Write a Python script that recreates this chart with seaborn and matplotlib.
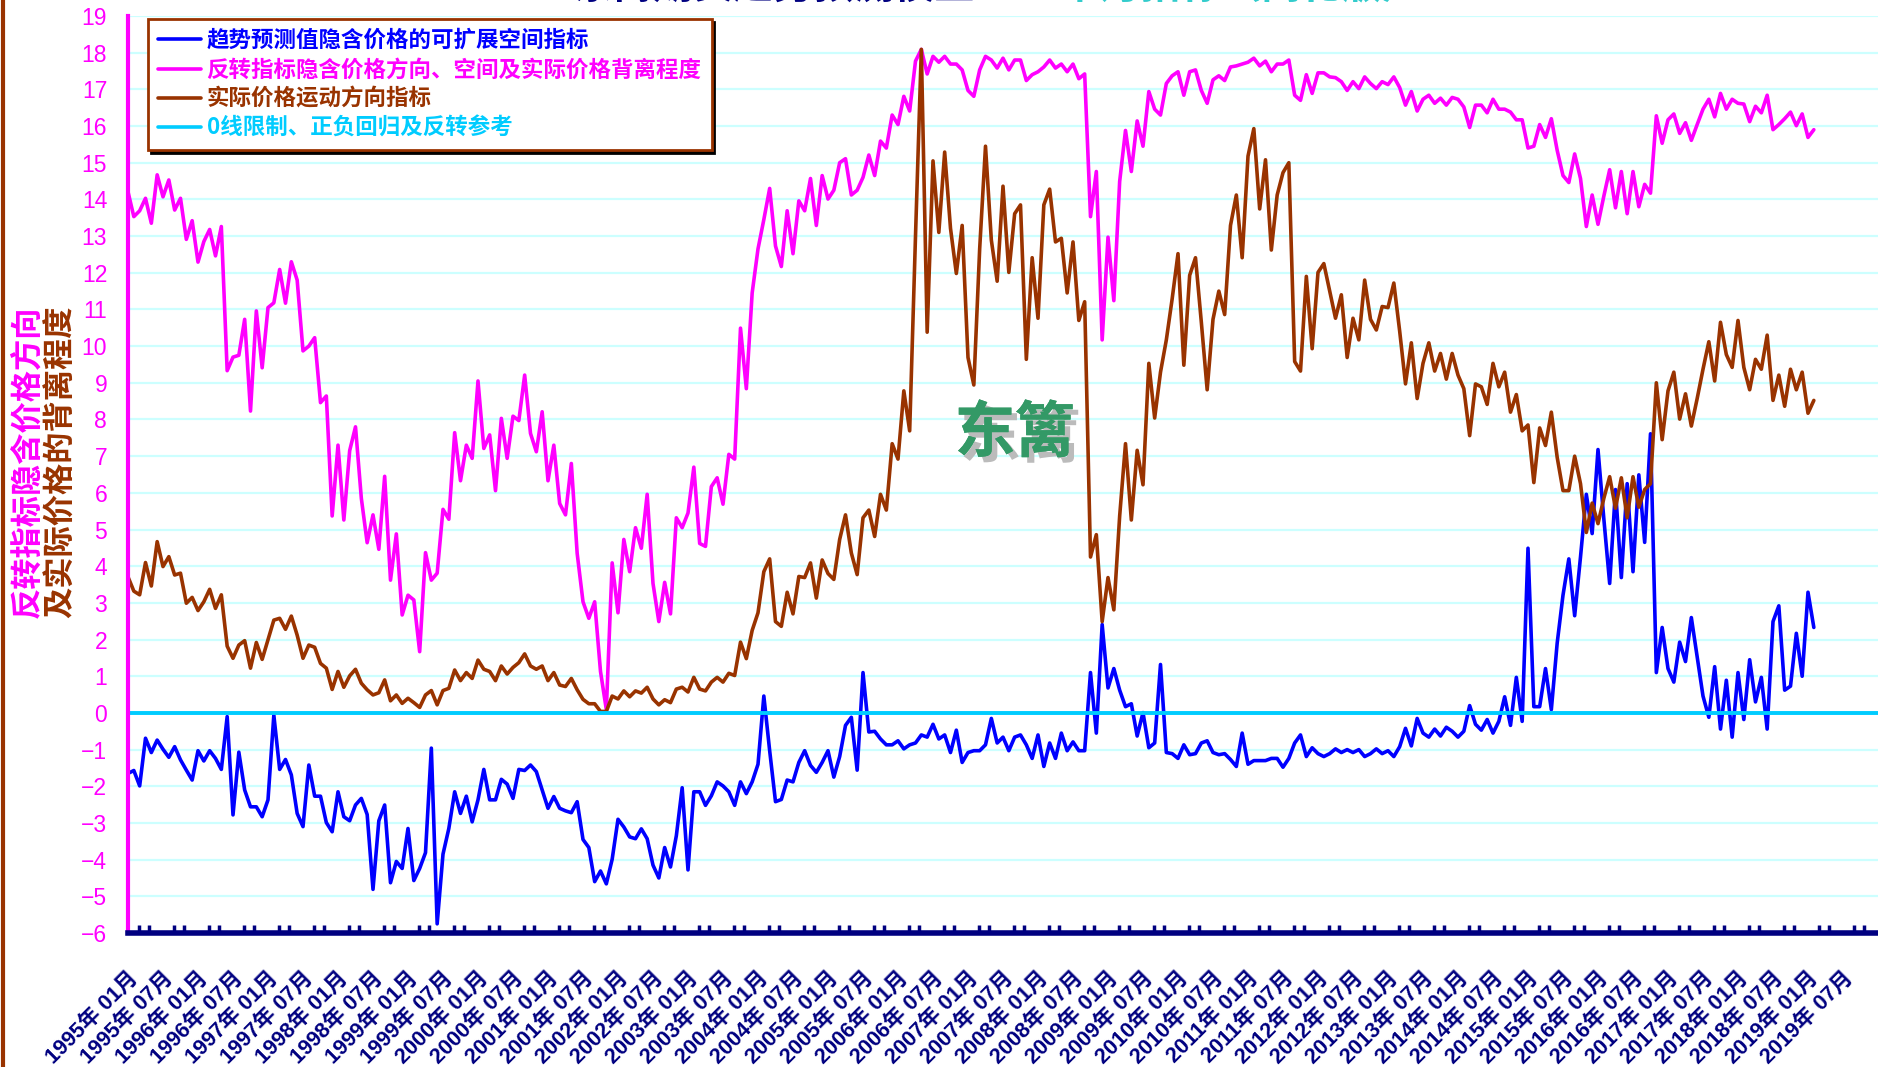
import matplotlib
matplotlib.use("Agg")
import matplotlib.pyplot as plt
import matplotlib.patheffects as pe
from matplotlib.lines import Line2D
from matplotlib.ticker import FixedLocator
import numpy as np
import pandas as pd
import seaborn as sns

# monthly values from 1995-01 to 2019-02
trend = [
    -1.65, -1.57, -1.99, -0.69, -1.08, -0.74, -0.99, -1.21, -0.92, -1.28,
    -1.56, -1.83, -1.03, -1.31, -1.03, -1.24, -1.54, -0.10, -2.78, -1.07,
    -2.10, -2.56, -2.56, -2.83, -2.37, -0.06, -1.54, -1.27, -1.69, -2.74,
    -3.10, -1.42, -2.27, -2.27, -2.99, -3.24, -2.15, -2.83, -2.94, -2.51,
    -2.33, -2.77, -4.81, -2.94, -2.51, -4.63, -4.05, -4.24, -3.15, -4.57,
    -4.24, -3.81, -0.96, -5.75, -3.85, -3.15, -2.15, -2.74, -2.27, -2.97,
    -2.37, -1.54, -2.37, -2.37, -1.81, -1.94, -2.33, -1.54, -1.57, -1.42,
    -1.60, -2.10, -2.60, -2.28, -2.60, -2.67, -2.72, -2.42, -3.45, -3.67,
    -4.60, -4.31, -4.66, -3.99, -2.90, -3.11, -3.38, -3.43, -3.16, -3.43,
    -4.15, -4.50, -3.67, -4.20, -3.35, -2.04, -4.28, -2.15, -2.15, -2.52,
    -2.26, -1.88, -1.99, -2.15, -2.52, -1.88, -2.20, -1.88, -1.40, 0.46,
    -1.03, -2.42, -2.36, -1.83, -1.88, -1.35, -1.03, -1.43, -1.62, -1.35,
    -1.03, -1.75, -1.19, -0.34, -0.12, -1.56, 1.10, -0.52, -0.50, -0.71,
    -0.87, -0.87, -0.76, -0.98, -0.87, -0.82, -0.60, -0.66, -0.31, -0.71,
    -0.60, -1.08, -0.47, -1.35, -1.08, -1.03, -1.03, -0.87, -0.15, -0.82,
    -0.66, -1.03, -0.66, -0.60, -0.87, -1.24, -0.60, -1.46, -0.82, -1.24,
    -0.55, -1.03, -0.79, -1.03, -1.03, 1.10, -0.55, 2.41, 0.68, 1.21,
    0.62, 0.17, 0.25, -0.63, 0.01, -0.95, -0.82, 1.32, -1.08, -1.11,
    -1.24, -0.87, -1.14, -1.11, -0.82, -0.76, -1.08, -1.14, -1.11, -1.27,
    -1.46, -0.55, -1.40, -1.30, -1.30, -1.30, -1.24, -1.24, -1.48, -1.24,
    -0.82, -0.60, -1.19, -0.95, -1.11, -1.19, -1.11, -0.98, -1.08, -1.00,
    -1.08, -1.00, -1.19, -1.11, -0.98, -1.11, -1.03, -1.19, -0.92, -0.42,
    -0.90, -0.15, -0.55, -0.66, -0.44, -0.63, -0.39, -0.50, -0.66, -0.50,
    0.20, -0.31, -0.47, -0.18, -0.55, -0.23, 0.44, -0.34, 0.97, -0.23,
    4.49, 0.17, 0.17, 1.21, 0.09, 1.90, 3.21, 4.20, 2.65, 4.25,
    5.96, 4.89, 7.18, 5.29, 3.53, 6.09, 3.69, 6.25, 3.85, 6.49,
    4.65, 7.61, 1.10, 2.33, 1.21, 0.84, 1.93, 1.40, 2.60, 1.53,
    0.46, -0.12, 1.26, -0.44, 0.89, -0.66, 1.10, -0.18, 1.45, 0.30,
    0.97, -0.44, 2.49, 2.92, 0.62, 0.73, 2.17, 1.00, 3.29, 2.33,
]

reversal = [
    14.21, 13.53, 13.69, 14.03, 13.35, 14.67, 14.07, 14.53, 13.71, 14.03,
    12.91, 13.42, 12.29, 12.85, 13.18, 12.46, 13.26, 9.33, 9.70, 9.75,
    10.73, 8.23, 10.96, 9.41, 11.05, 11.18, 12.09, 11.17, 12.30, 11.80,
    9.87, 10.00, 10.23, 8.46, 8.64, 5.37, 7.30, 5.26, 7.15, 7.80,
    5.85, 4.64, 5.40, 4.46, 6.45, 3.62, 4.88, 2.67, 3.21, 3.08,
    1.67, 4.37, 3.62, 3.81, 5.55, 5.28, 7.64, 6.33, 7.30, 6.94,
    9.05, 7.21, 7.58, 6.06, 8.03, 6.94, 8.09, 7.97, 9.21, 7.62,
    7.12, 8.21, 6.33, 7.30, 5.71, 5.40, 6.80, 4.35, 3.03, 2.58,
    3.03, 1.13, 0.09, 4.09, 2.73, 4.73, 3.85, 5.05, 4.49, 5.96,
    3.53, 2.49, 3.56, 2.70, 5.32, 5.05, 5.45, 6.70, 4.62, 4.54,
    6.17, 6.41, 5.69, 7.05, 6.92, 10.49, 8.84, 11.45, 12.65, 13.45,
    14.30, 12.73, 12.17, 13.69, 12.52, 13.96, 13.69, 14.57, 13.29, 14.65,
    14.01, 14.25, 15.00, 15.11, 14.12, 14.25, 14.60, 15.21, 14.65, 15.59,
    15.40, 16.30, 16.04, 16.81, 16.41, 17.77, 18.09, 17.42, 17.90, 17.74,
    17.90, 17.69, 17.69, 17.53, 16.97, 16.81, 17.53, 17.90, 17.80, 17.58,
    17.85, 17.53, 17.80, 17.80, 17.24, 17.40, 17.48, 17.61, 17.80, 17.58,
    17.69, 17.48, 17.69, 17.29, 17.42, 13.53, 14.76, 10.17, 12.97, 11.24,
    14.49, 15.88, 14.76, 16.14, 15.45, 16.94, 16.46, 16.30, 17.16, 17.37,
    17.48, 16.84, 17.48, 17.53, 16.97, 16.62, 17.26, 17.37, 17.24, 17.61,
    17.64, 17.69, 17.74, 17.85, 17.64, 17.77, 17.48, 17.69, 17.69, 17.80,
    16.84, 16.70, 17.40, 16.89, 17.45, 17.45, 17.34, 17.32, 17.21, 16.97,
    17.21, 17.02, 17.34, 17.16, 17.02, 17.21, 17.13, 17.34, 17.05, 16.57,
    16.94, 16.41, 16.73, 16.84, 16.62, 16.76, 16.57, 16.78, 16.73, 16.52,
    15.96, 16.57, 16.57, 16.36, 16.73, 16.46, 16.46, 16.38, 16.17, 16.17,
    15.40, 15.45, 16.04, 15.69, 16.20, 15.34, 14.65, 14.46, 15.24, 14.57,
    13.26, 14.12, 13.32, 14.09, 14.81, 13.77, 14.76, 13.61, 14.76, 13.80,
    14.41, 14.17, 16.28, 15.53, 16.17, 16.33, 15.80, 16.09, 15.61, 16.04,
    16.46, 16.73, 16.25, 16.89, 16.46, 16.73, 16.62, 16.60, 16.12, 16.54,
    16.36, 16.84, 15.90, 16.04, 16.20, 16.38, 16.01, 16.33, 15.69, 15.90,
]

price = [
    3.71, 3.32, 3.22, 4.10, 3.46, 4.67, 3.99, 4.26, 3.76, 3.81,
    2.99, 3.15, 2.79, 3.03, 3.37, 2.85, 3.22, 1.82, 1.49, 1.85,
    1.97, 1.22, 1.92, 1.46, 1.99, 2.53, 2.58, 2.28, 2.64, 2.12,
    1.49, 1.85, 1.79, 1.35, 1.22, 0.64, 1.13, 0.70, 1.01, 1.19,
    0.81, 0.63, 0.49, 0.55, 0.90, 0.33, 0.49, 0.26, 0.40, 0.28,
    0.15, 0.49, 0.61, 0.22, 0.61, 0.67, 1.17, 0.88, 1.10, 0.94,
    1.44, 1.19, 1.13, 0.88, 1.28, 1.06, 1.24, 1.37, 1.61, 1.28,
    1.19, 1.28, 0.88, 1.10, 0.76, 0.72, 0.94, 0.63, 0.37, 0.25,
    0.25, 0.04, 0.04, 0.46, 0.38, 0.60, 0.44, 0.60, 0.54, 0.70,
    0.38, 0.22, 0.36, 0.28, 0.65, 0.70, 0.57, 0.97, 0.65, 0.60,
    0.84, 0.97, 0.84, 1.08, 1.02, 1.93, 1.48, 2.25, 2.73, 3.85,
    4.20, 2.49, 2.36, 3.29, 2.70, 3.72, 3.69, 4.09, 3.13, 4.17,
    3.80, 3.64, 4.73, 5.40, 4.36, 3.77, 5.32, 5.53, 4.81, 5.96,
    5.53, 7.34, 6.92, 8.78, 7.69, 13.00, 18.09, 10.38, 15.05, 13.10,
    15.29, 13.21, 11.98, 13.29, 9.69, 8.94, 12.65, 15.45, 12.89, 11.77,
    14.36, 12.01, 13.61, 13.85, 9.64, 12.41, 10.76, 13.85, 14.28, 12.84,
    12.94, 11.45, 12.84, 10.70, 11.21, 4.25, 4.86, 2.49, 3.69, 2.81,
    5.37, 7.34, 5.26, 7.16, 6.22, 9.53, 8.04, 9.29, 10.17, 11.29,
    12.52, 9.48, 11.93, 12.41, 10.65, 8.81, 10.73, 11.50, 10.86, 13.29,
    14.12, 12.41, 15.18, 15.93, 13.74, 15.08, 12.62, 14.12, 14.73, 15.00,
    9.58, 9.32, 11.90, 9.93, 12.01, 12.25, 11.50, 10.76, 11.40, 9.69,
    10.76, 10.17, 11.80, 10.73, 10.44, 11.08, 11.05, 11.72, 10.41, 8.97,
    10.09, 8.57, 9.53, 10.09, 9.32, 9.80, 9.10, 9.80, 9.21, 8.84,
    7.56, 8.97, 8.89, 8.41, 9.53, 8.89, 9.29, 8.20, 8.68, 7.69,
    7.85, 6.28, 7.77, 7.29, 8.20, 6.97, 6.06, 6.06, 7.00, 6.25,
    4.92, 5.72, 5.16, 5.85, 6.44, 5.58, 6.41, 5.32, 6.44, 5.61,
    6.09, 6.25, 9.00, 7.45, 8.78, 9.29, 8.01, 8.70, 7.82, 8.57,
    9.37, 10.12, 9.05, 10.65, 9.77, 9.42, 10.70, 9.42, 8.81, 9.64,
    9.37, 10.30, 8.52, 9.21, 8.36, 9.37, 8.81, 9.29, 8.17, 8.52,
]

tick_labels = [f"{1995 + k // 2}年 {'01' if k % 2 == 0 else '07'}月" for k in range(50)]

legend_labels = [
    "趋势预测值隐含价格的可扩展空间指标",
    "反转指标隐含价格方向、空间及实际价格背离程度",
    "实际价格运动方向指标",
    "0线限制、正负回归及反转参考",
]

BLUE = "#0000FF"
MAGENTA = "#FF00FF"
BROWN = "#993300"
CYAN = "#00CCFF"
NAVY = "#000080"

df = pd.DataFrame({"month": np.arange(len(trend)), "trend": trend,
                   "reversal": reversal, "price": price})

sns.set_style("white")
plt.rcParams["font.family"] = ["Liberation Sans", "Noto Sans CJK SC"]

W, H = 1878, 1067
fig = plt.figure(figsize=(W / 100, H / 100), dpi=100)
ax = fig.add_axes([128 / W, 1 - 933 / H, 1 - 128 / W, (933 - 16) / H])

sns.lineplot(data=df, x="month", y="trend", color=BLUE, linewidth=2.6, ax=ax)
sns.lineplot(data=df, x="month", y="reversal", color=MAGENTA, linewidth=2.6, ax=ax)
sns.lineplot(data=df, x="month", y="price", color=BROWN, linewidth=2.6, ax=ax)
ax.axhline(0, color=CYAN, linewidth=2.8)

ax.set_xlim(0, 300)
ax.set_ylim(-6, 19)
ax.set_xlabel("")
ax.set_ylabel("")

# axes styling
ax.set_axisbelow(True)
ax.grid(axis="y", color="#CCFFFF", linewidth=1.6)
ax.grid(axis="x", visible=False)
for s in ["top", "right"]:
    ax.spines[s].set_visible(False)
ax.spines["left"].set_color(MAGENTA)
ax.spines["left"].set_linewidth(3)
ax.spines["bottom"].set_color(NAVY)
ax.spines["bottom"].set_linewidth(4)

ax.set_yticks(range(-6, 20))
ax.tick_params(axis="y", colors=MAGENTA, direction="out", length=7, width=2.5,
               labelsize=16.5, pad=8)

major = list(range(0, 301, 6))
ax.set_xticks(major)
ax.set_xticklabels(tick_labels + [""], rotation=45, ha="right", va="top",
                   rotation_mode="anchor", fontsize=15.5, fontweight="bold", color=NAVY)
ax.xaxis.set_minor_locator(FixedLocator([m + d for m in range(0, 300, 6) for d in (1.8, 3.6)]))
ax.tick_params(axis="x", which="major", direction="out", length=9, width=2.5,
               color=NAVY, pad=16)
ax.tick_params(axis="x", which="minor", direction="in", length=6, width=2.5,
               color=NAVY, bottom=True)

# legend
handles = [Line2D([], [], color=c, linewidth=2.6) for c in (BLUE, MAGENTA, BROWN, CYAN)]
leg = ax.legend(handles, legend_labels, loc="upper left",
                bbox_to_anchor=((148 - 128) / (W - 128), (933 - 19) / 917),
                borderaxespad=0, fancybox=False, shadow={"color": "black", "alpha": 1},
                framealpha=1, edgecolor=BROWN, handlelength=1.9, handletextpad=0.25,
                labelspacing=0.28, borderpad=0.45,
                labelcolor=[BLUE, MAGENTA, BROWN, CYAN],
                prop={"family": ["Noto Sans CJK SC"], "weight": "bold", "size": 16.2})
leg.get_frame().set_linewidth(2)

# y label in two colours
fig.text(27 / W, 1 - 462 / H, "反转指标隐含价格方向", rotation=90, ha="center", va="center",
         color=MAGENTA, fontsize=22.5, fontweight="bold", family=["Noto Sans CJK SC"])
fig.text(61 / W, 1 - 462 / H, "及实际价格的背离程度", rotation=90, ha="center", va="center",
         color=BROWN, fontsize=22.5, fontweight="bold", family=["Noto Sans CJK SC"])

# title (clipped at the top edge, as in the source image)
fig.text(573 / W, 1 + 2 / H, "东篱期货趋势预测模型—", ha="left", va="baseline",
         color=NAVY, fontsize=29, fontweight="bold", family=["Noto Sans CJK SC"])
fig.text(1036 / W, 1 + 2 / H, "3个月指标（简化版）", ha="left", va="baseline",
         color="#33CCCC", fontsize=29, fontweight="bold", family=["Noto Sans CJK SC"])

# watermark
shadow = [pe.withSimplePatchShadow(offset=(4, -4), shadow_rgbFace="#BBBBBB", alpha=1), pe.Normal()]
for cx, ch in ((985, "东"), (1045, "篱")):
    fig.text(cx / W, 1 - 434 / H, ch, ha="center", va="center", color="#339966",
             fontsize=44, fontweight="bold", family=["Noto Sans CJK SC"], path_effects=shadow)

# brown border line on the left edge
fig.add_artist(Line2D([3 / W, 3 / W], [0, 1], transform=fig.transFigure, color=BROWN, linewidth=3))

fig.savefig("out.png", dpi=100)
